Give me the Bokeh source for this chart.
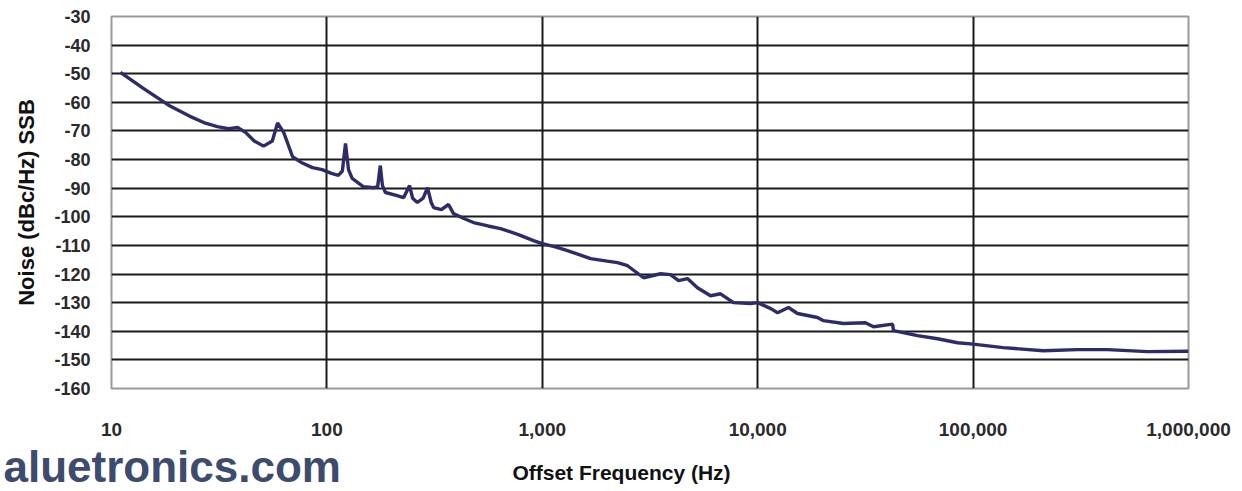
from bokeh.plotting import figure
from bokeh.layouts import column
from bokeh.models import Range1d, FixedTicker, NumeralTickFormatter, PrintfTickFormatter, Label
from bokeh.embed import file_html
from bokeh.resources import INLINE

# ---- data ----
freq_hz = [11, 14, 18.4, 23, 27.3, 31, 34.9, 38.5, 41.9, 46, 50.8, 55.8, 59, 63, 69.3, 76,
           85.7, 95, 105, 113, 118, 122, 126, 131, 148, 165, 172, 177, 181, 187, 210, 227,
           242, 250, 263, 280, 293, 305, 313, 340, 367, 387, 430, 479, 560, 640, 780, 910,
           1000, 1150, 1309, 1675, 2000, 2234, 2488, 2953, 3540, 3937, 4290, 4720, 5250,
           6040, 6720, 7720, 9270, 10000, 11500, 12360, 13900, 15300, 18950, 20200, 25000,
           31600, 34500, 42300, 42700, 55200, 68400, 84700, 100000, 138000, 212000, 305000,
           421000, 646000, 1000000]
noise_dbc = [-49.5, -55, -61, -64.8, -67.3, -68.5, -69.2, -68.8, -70.5, -73.5, -75.3, -73.5,
             -67.2, -70.5, -79, -81, -82.8, -83.5, -84.8, -85.5, -84, -74.4, -83.5, -86.6,
             -89.5, -89.8, -89.5, -82.1, -89, -91.5, -92.5, -93.3, -89.1, -93.5, -95, -93.5,
             -89.8, -95, -96.8, -97.5, -95.7, -98.9, -100.5, -102, -103.2, -104.1, -106.3,
             -108.3, -109.4, -110.5, -111.8, -114.6, -115.5, -116, -117.1, -121.3, -119.9,
             -120.2, -122.3, -121.6, -124.8, -127.6, -126.9, -130, -130.3, -130, -132.1,
             -133.5, -131.7, -133.8, -135.2, -136.3, -137.3, -137, -138.4, -137.5, -139.8,
             -141.5, -142.6, -144, -144.5, -145.7, -146.8, -146.4, -146.4, -147.1, -147]
x_ticks = [10, 100, 1000, 10000, 100000, 1000000]
y_ticks = [-30, -40, -50, -60, -70, -80, -90, -100, -110, -120, -130, -140, -150, -160]
x_label = "Offset Frequency (Hz)"
y_label = "Noise (dBc/Hz) SSB"
watermark = "aluetronics.com"

FONT = "Liberation Sans"
W = 1234
H_MAIN, H_STRIP = 441, 50

p = figure(width=W, height=H_MAIN, x_axis_type="log",
           x_range=Range1d(x_ticks[0], x_ticks[-1]),
           y_range=Range1d(y_ticks[-1], y_ticks[0]),
           output_backend="svg", toolbar_location=None,
           min_border_left=111, min_border_right=46,
           min_border_top=16, min_border_bottom=53)
p.frame_align = False
p.background_fill_color = "white"
p.border_fill_color = "white"
p.outline_line_color = "#9a9a9a"
p.outline_line_width = 2

for ax in (p.xaxis, p.yaxis):
    ax.axis_line_color = None
    ax.major_tick_line_color = None
    ax.minor_tick_line_color = None
    ax.major_label_text_font = FONT
    ax.major_label_text_font_style = "bold"
    ax.major_label_text_color = "#2a2a2a"

p.xaxis.ticker = FixedTicker(ticks=x_ticks)
p.xaxis.formatter = NumeralTickFormatter(format="0,0")
p.xaxis.major_label_text_font_size = "19px"
p.xaxis.major_label_standoff = 28

p.yaxis.ticker = FixedTicker(ticks=y_ticks)
p.yaxis.formatter = PrintfTickFormatter(format="%d")
p.yaxis.major_label_text_font_size = "18px"
p.yaxis.major_label_standoff = 15
p.yaxis.axis_label = y_label
p.yaxis.axis_label_text_font = FONT
p.yaxis.axis_label_text_font_style = "bold"
p.yaxis.axis_label_text_font_size = "22px"
p.yaxis.axis_label_text_color = "#111111"
p.yaxis.axis_label_standoff = 12

p.xgrid.ticker = FixedTicker(ticks=x_ticks[:-1])
p.xgrid.grid_line_color = "#1a1a1a"
p.xgrid.grid_line_width = 2
p.ygrid.ticker = FixedTicker(ticks=y_ticks[1:-1])
p.ygrid.grid_line_color = "#1a1a1a"
p.ygrid.grid_line_width = 2

p.line(freq_hz, noise_dbc, line_color="#2e2c68", line_width=3.4)

# bottom strip with the axis title and the watermark
s = figure(width=W, height=H_STRIP, x_range=Range1d(0, W), y_range=Range1d(0, H_STRIP),
           x_axis_location=None, y_axis_location=None,
           output_backend="svg", toolbar_location=None,
           min_border_left=0, min_border_right=0, min_border_top=0, min_border_bottom=0)
s.frame_align = False
s.grid.visible = False
s.outline_line_color = None
s.background_fill_color = "white"
s.border_fill_color = "white"
s.add_layout(Label(x=621, y=19, text=x_label,
                   text_font=FONT, text_font_style="bold", text_font_size="21px",
                   text_color="#111111", text_align="center", text_baseline="middle"))
s.add_layout(Label(x=3, y=25, text=watermark,
                   text_font=FONT, text_font_style="bold", text_font_size="44px",
                   text_color="#3d4b6e", text_align="left", text_baseline="middle"))

open("out.html", "w").write(file_html(column(p, s, spacing=0), INLINE))
